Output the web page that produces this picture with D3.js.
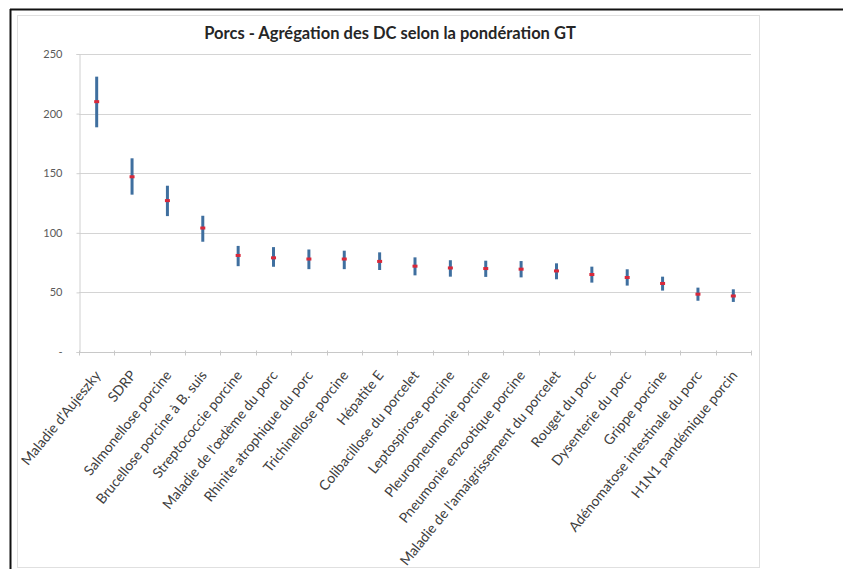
<!DOCTYPE html>
<html>
<head>
<meta charset="utf-8">
<script src="https://cdn.jsdelivr.net/npm/d3@7"></script>
<style>
  html, body { margin: 0; padding: 0; background: #fff; }
  svg { display: block; }
</style>
</head>
<body>
<svg id="chart" width="843" height="569"></svg>
<script>
// Diseases, ordered by aggregated score
const categories = [
  "Maladie d'Aujeszky", "SDRP", "Salmonellose porcine", "Brucellose porcine à B. suis",
  "Streptococcie porcine", "Maladie de l'œdème du porc", "Rhinite atrophique du porc",
  "Trichinellose porcine", "Hépatite E", "Colibacillose du porcelet", "Leptospirose porcine",
  "Pleuropneumonie porcine", "Pneumonie enzootique porcine",
  "Maladie de l'amaigrissement du porcelet", "Rouget du porc", "Dysenterie du porc",
  "Grippe porcine", "Adénomatose intestinale du porc", "H1N1 pandémique porcin"
];
// Aggregated score (point) with lower / upper bounds (bars)
const scores = [210, 147, 127, 104, 81, 79, 78, 78, 76, 72, 70.5, 70, 69.5, 68, 65, 62.5, 57.5, 48.5, 47];
const lower  = [188.5, 132, 114, 92.5, 72, 71.5, 69.5, 69.5, 68.8, 64.3, 63.2, 63, 62.6, 61, 58.2, 55.7, 51.5, 43, 42];
const upper  = [231, 162.5, 139.5, 114.3, 89, 88, 86, 85, 83.6, 79.4, 77, 76.6, 76.3, 74.4, 71.6, 69.4, 63.2, 54, 52.6];
const yTicks = [0, 50, 100, 150, 200, 250];
const title = "Porcs - Agrégation des DC selon la pondération GT";

const svg = d3.select("#chart");
const font = "Lato, 'Open Sans', sans-serif";

// page frame
svg.append("line").attr("x1", 10).attr("y1", 9.5).attr("x2", 843).attr("y2", 9.5)
  .attr("stroke", "#111").attr("stroke-width", 2);
svg.append("line").attr("x1", 10.5).attr("y1", 9).attr("x2", 10.5).attr("y2", 569)
  .attr("stroke", "#111").attr("stroke-width", 2);
// chart area border
svg.append("rect").attr("x", 17.5).attr("y", 15.5).attr("width", 742).attr("height", 552)
  .attr("fill", "#fff").attr("stroke", "#e0e0e0").attr("stroke-width", 1);

const margin = { left: 79, right: 751, top: 54, bottom: 352 };
const x = d3.scaleBand().domain(categories).range([margin.left, margin.right]).padding(0);
const y = d3.scaleLinear().domain([0, 250]).range([margin.bottom, margin.top]);

// title
svg.append("text").attr("x", 390).attr("y", 39).attr("text-anchor", "middle")
  .attr("font-family", font).attr("font-weight", "bold").attr("font-size", 16.5)
  .attr("fill", "#262626").text(title);

// gridlines
svg.append("g").selectAll("line").data(yTicks.filter(d => d > 0)).join("line")
  .attr("x1", margin.left).attr("x2", margin.right)
  .attr("y1", d => Math.round(y(d)) + 0.5).attr("y2", d => Math.round(y(d)) + 0.5)
  .attr("stroke", "#d4d4d4").attr("stroke-width", 1);

// y axis
const yAxis = svg.append("g").attr("transform", `translate(${margin.left + 0.5},0)`)
  .call(d3.axisLeft(y).tickValues(yTicks).tickSize(3).tickPadding(14)
    .tickFormat(d => d === 0 ? "-" : d));
yAxis.select(".domain").attr("stroke", "#d0d0d0");
yAxis.selectAll(".tick line").attr("stroke", "#d0d0d0");
yAxis.selectAll("text").attr("font-family", font).attr("font-size", 11).attr("fill", "#595959");

// x axis with ticks at band edges
const xAxisG = svg.append("g").attr("transform", `translate(0,${margin.bottom + 0.5})`);
xAxisG.append("line").attr("x1", margin.left).attr("x2", margin.right)
  .attr("stroke", "#c8c8c8");
const edges = d3.range(categories.length + 1).map(i => margin.left + i * x.bandwidth());
xAxisG.selectAll("line.tk").data(edges).join("line").attr("class", "tk")
  .attr("x1", d => Math.round(d) + 0.5).attr("x2", d => Math.round(d) + 0.5)
  .attr("y1", -2).attr("y2", 3).attr("stroke", "#c8c8c8");
xAxisG.selectAll("text").data(categories).join("text")
  .attr("transform", d => `translate(${x(d) + x.bandwidth() / 2 + 1},${20}) rotate(-51)`)
  .attr("text-anchor", "end").attr("dy", "0.35em")
  .attr("font-family", font).attr("font-size", 14).attr("fill", "#404040")
  .text(d => d);

// error bars
const data = categories.map((c, i) => ({ c, v: scores[i], lo: lower[i], hi: upper[i] }));
svg.append("g").selectAll("line").data(data).join("line")
  .attr("x1", d => x(d.c) + x.bandwidth() / 2).attr("x2", d => x(d.c) + x.bandwidth() / 2)
  .attr("y1", d => y(d.lo)).attr("y2", d => y(d.hi))
  .attr("stroke", "#3f6f9f").attr("stroke-width", 3);
// score markers
svg.append("g").selectAll("rect").data(data).join("rect")
  .attr("x", d => x(d.c) + x.bandwidth() / 2 - 2.5).attr("y", d => y(d.v) - 1.5)
  .attr("width", 5).attr("height", 3).attr("fill", "#d8283a");
</script>
</body>
</html>
